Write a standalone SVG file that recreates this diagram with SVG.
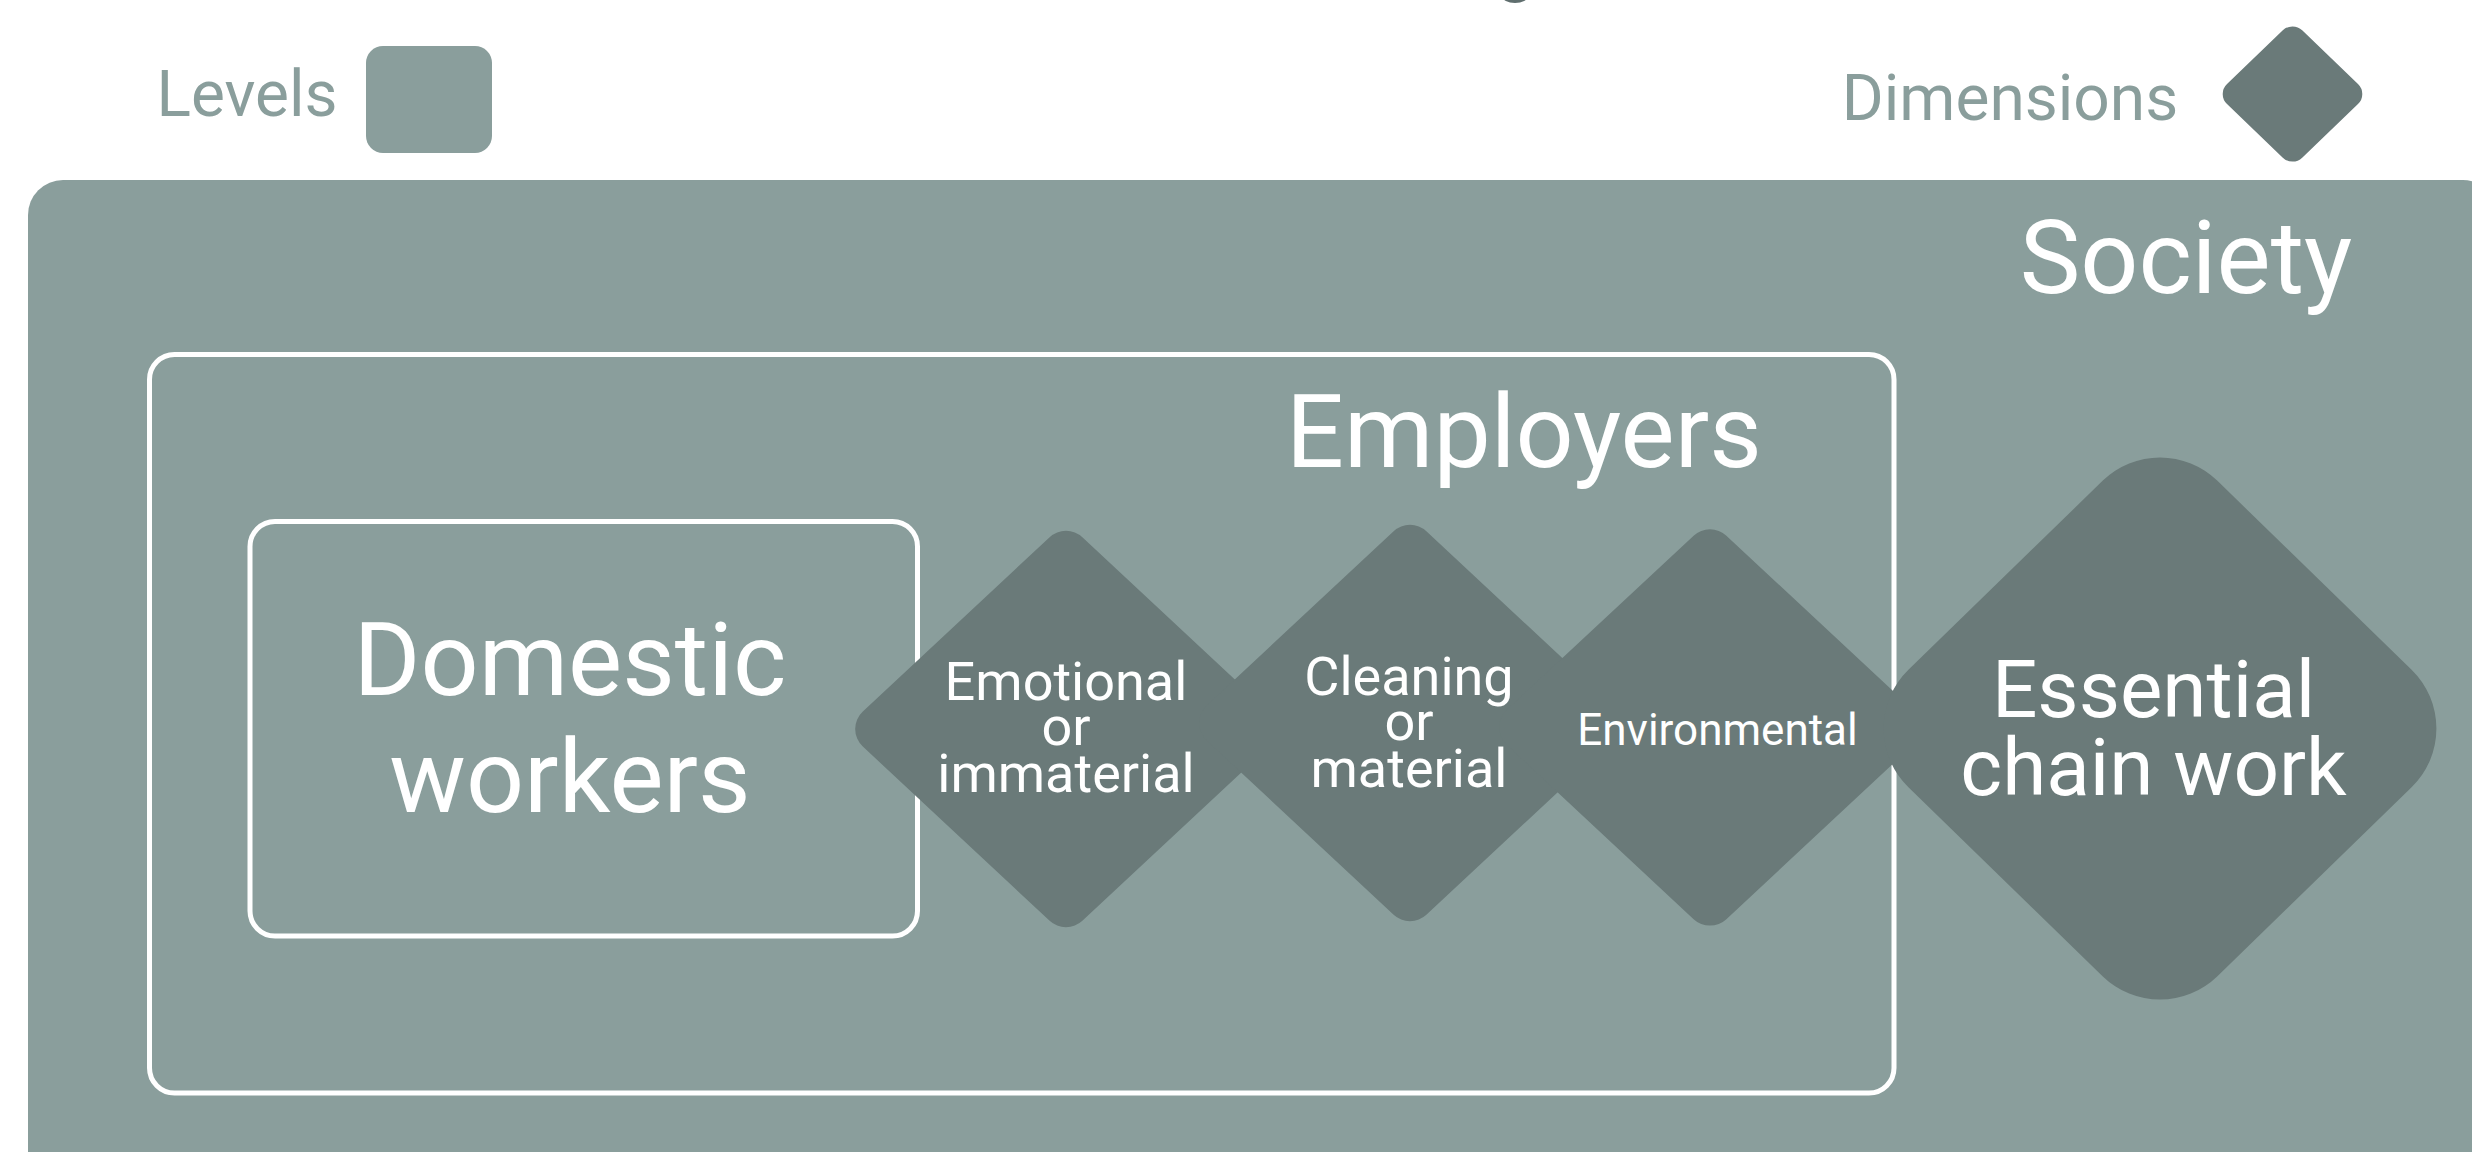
<svg xmlns="http://www.w3.org/2000/svg" xmlns:xlink="http://www.w3.org/1999/xlink" width="2472" height="1152" viewBox="0 0 2472 1152">
  <style>
    .level { fill: #8a9e9c; }
    .frame { fill: none; stroke: #ffffff; stroke-width: 5; }
    .dim { fill: #6a7a79; }
    .label { font-family: Roboto, "Liberation Sans", sans-serif; fill: #ffffff; text-anchor: middle; }
    .legend { font-family: Roboto, "Liberation Sans", sans-serif; fill: #8a9e9c; font-size: 64px; text-anchor: middle; }
  </style>
  <defs>
    <!-- rounded diamond shapes, centred on the origin -->
    <path id="diamond-small" d="M -16.37 -191.74 A 24 24 0 0 1 16.37 -191.74 L 203.17 -17.56 A 24 24 0 0 1 203.17 17.56 L 16.37 191.74 A 24 24 0 0 1 -16.37 191.74 L -203.17 17.56 A 24 24 0 0 1 -203.17 -17.56 Z"/>
    <path id="diamond-large" d="M -57.17 -247.88 A 82 82 0 0 1 57.17 -247.88 L 251.58 -58.78 A 82 82 0 0 1 251.58 58.78 L 57.17 247.88 A 82 82 0 0 1 -57.17 247.88 L -251.58 58.78 A 82 82 0 0 1 -251.58 -58.78 Z"/>
    <path id="diamond-key" d="M -9.70 -63.69 A 14 14 0 0 1 9.70 -63.69 L 65.49 -10.10 A 14 14 0 0 1 65.49 10.10 L 9.70 63.69 A 14 14 0 0 1 -9.70 63.69 L -65.49 10.10 A 14 14 0 0 1 -65.49 -10.10 Z"/>
  </defs>

  <rect width="2472" height="1152" fill="#ffffff"/>

  <!-- small mark at the top edge -->
  <ellipse cx="1515" cy="-4" rx="13" ry="7" fill="#5f6e6e"/>

  <!-- legend -->
  <g id="legend-levels">
    <text class="legend" x="247" y="116">Levels</text>
    <rect class="level" x="366" y="46" width="126" height="107" rx="17"/>
  </g>
  <g id="legend-dimensions">
    <text class="legend" x="2010" y="120">Dimensions</text>
    <use xlink:href="#diamond-key" class="dim" x="2292.5" y="94"/>
  </g>

  <!-- nested levels -->
  <g id="society">
    <rect class="level" x="28" y="180" width="2470" height="1010" rx="35"/>
    <text class="label" x="2186" y="293" font-size="102">Society</text>
  </g>
  <g id="employers">
    <rect class="frame" x="149.5" y="354.5" width="1744.5" height="738.5" rx="25"/>
    <text class="label" x="1524" y="467" font-size="102">Employers</text>
  </g>
  <g id="domestic-workers">
    <rect class="frame" x="250" y="521.5" width="667.5" height="414.5" rx="25"/>
    <text class="label" font-size="102"><tspan x="570" y="695">Domestic</tspan><tspan x="570" y="811.7">workers</tspan></text>
  </g>

  <!-- dimensions -->
  <g id="dim-emotional">
    <use xlink:href="#diamond-small" class="dim" x="1066" y="729"/>
    <text class="label" font-size="54"><tspan x="1066" y="700">Emotional</tspan><tspan x="1066" y="745">or</tspan><tspan x="1066" y="791.7">immaterial</tspan></text>
  </g>
  <g id="dim-cleaning">
    <use xlink:href="#diamond-small" class="dim" x="1410" y="723"/>
    <text class="label" font-size="54"><tspan x="1409" y="695">Cleaning</tspan><tspan x="1409" y="740">or</tspan><tspan x="1409" y="786.7">material</tspan></text>
  </g>
  <g id="dim-environmental">
    <use xlink:href="#diamond-small" class="dim" x="1710" y="727.4"/>
    <text class="label" x="1717.5" y="745" font-size="44">Environmental</text>
  </g>
  <g id="dim-essential">
    <use xlink:href="#diamond-large" class="dim" x="2160" y="728.5"/>
    <text class="label" font-size="80"><tspan x="2153.5" y="716.6">Essential</tspan><tspan x="2153.5" y="795">chain work</tspan></text>
  </g>

  <g id="connectors"/>
</svg>
